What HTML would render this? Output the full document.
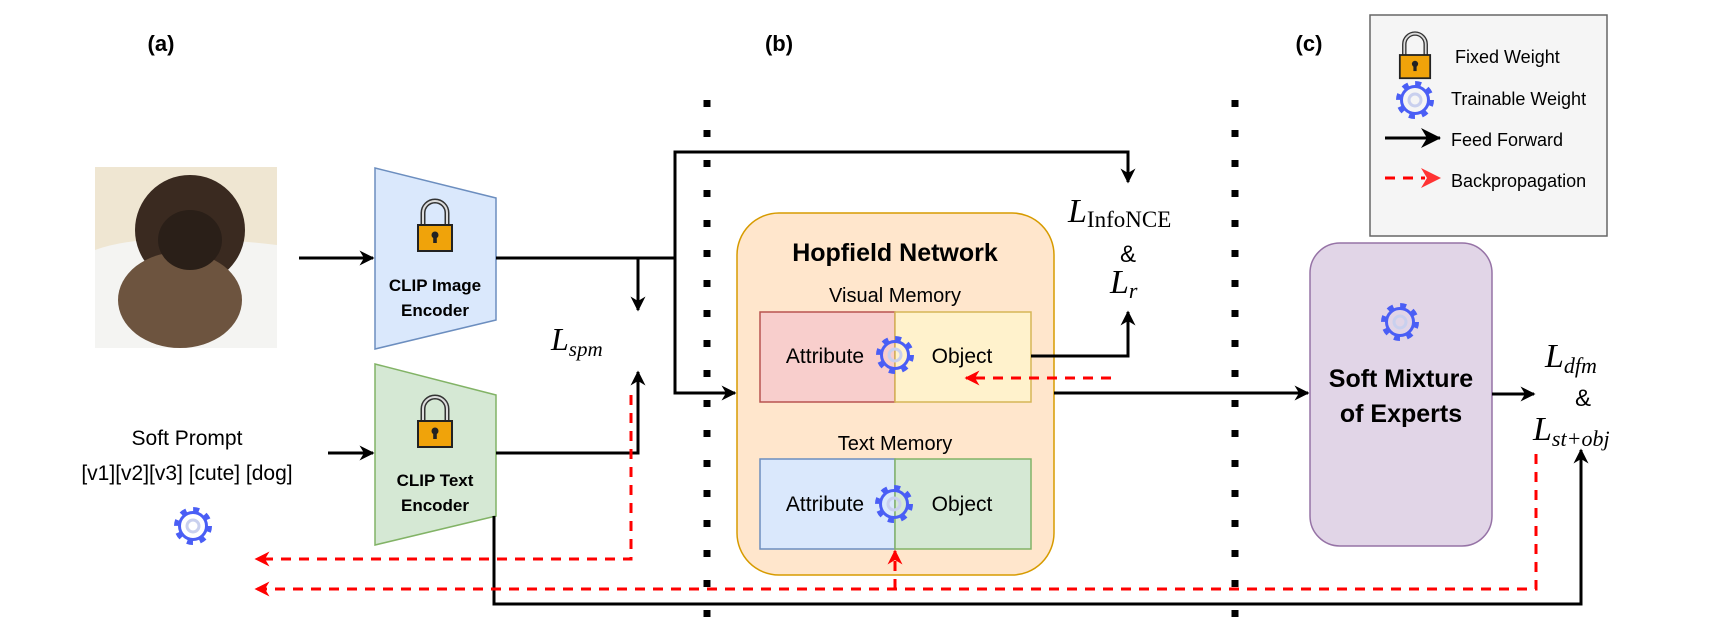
<!DOCTYPE html>
<html><head><meta charset="utf-8"><style>
html,body{margin:0;padding:0;background:#fff}
svg{display:block}
.s{font-family:"Liberation Sans",sans-serif}
.m{font-family:"Liberation Serif",serif;font-style:italic}
.r{font-family:"Liberation Serif",serif}
</style></head><body>
<svg width="1713" height="644" viewBox="0 0 1713 644" xmlns="http://www.w3.org/2000/svg">
<defs>
<symbol id="gear" viewBox="-20 -20 40 40" overflow="visible">
<circle r="16.5" fill="none" stroke="#4a5ef5" stroke-width="5" stroke-dasharray="6 6.96"/>
<circle r="13.5" fill="none" stroke="#4a5ef5" stroke-width="3"/>
<circle r="6" fill="none" stroke="#c9d0ee" stroke-width="3"/>
</symbol>
<symbol id="lock" viewBox="-20 -28 40 56" overflow="visible">
<path d="M-12 0 V-12 A12 12 0 0 1 12 -12 V0" fill="none" stroke="#333" stroke-width="5"/>
<path d="M-12 0 V-12 A12 12 0 0 1 12 -12 V0" fill="none" stroke="#ddd" stroke-width="2"/>
<rect x="-17" y="0" width="34" height="26" fill="#f0a30a" stroke="#222" stroke-width="2"/>
<circle cx="0" cy="10" r="3.5" fill="#222"/><rect x="-1.8" y="10" width="3.6" height="8" fill="#222"/>
</symbol>
<g id="dots">
<rect x="-3.5" y="100" width="7" height="7"/><rect x="-3.5" y="130" width="7" height="7"/><rect x="-3.5" y="160" width="7" height="7"/><rect x="-3.5" y="190" width="7" height="7"/><rect x="-3.5" y="220" width="7" height="7"/><rect x="-3.5" y="250" width="7" height="7"/><rect x="-3.5" y="280" width="7" height="7"/><rect x="-3.5" y="310" width="7" height="7"/><rect x="-3.5" y="340" width="7" height="7"/><rect x="-3.5" y="370" width="7" height="7"/><rect x="-3.5" y="400" width="7" height="7"/><rect x="-3.5" y="430" width="7" height="7"/><rect x="-3.5" y="460" width="7" height="7"/><rect x="-3.5" y="490" width="7" height="7"/><rect x="-3.5" y="520" width="7" height="7"/><rect x="-3.5" y="550" width="7" height="7"/><rect x="-3.5" y="580" width="7" height="7"/><rect x="-3.5" y="610" width="7" height="7"/>
</g>
<marker id="ab" viewBox="0 0 10 10" refX="9" refY="5" markerWidth="15" markerHeight="15" orient="auto" markerUnits="userSpaceOnUse"><path d="M0 0 L10 5 L0 10 L3 5 Z" fill="#000"/></marker>
<marker id="ar" viewBox="0 0 10 10" refX="9" refY="5" markerWidth="15" markerHeight="15" orient="auto" markerUnits="userSpaceOnUse"><path d="M0 0 L10 5 L0 10 L3 5 Z" fill="#f00"/></marker>
<marker id="arl" viewBox="0 0 10 10" refX="9" refY="5" markerWidth="20" markerHeight="20" orient="auto" markerUnits="userSpaceOnUse"><path d="M0 0 L10 5 L0 10 L3 5 Z" fill="#f33"/></marker>
</defs>
<style>
.k{stroke:#000;stroke-width:3;fill:none}
.rd{stroke:#f00;stroke-width:3;fill:none;stroke-dasharray:10 8}
</style>

<text x="161" y="51" class="s" font-size="22" font-weight="bold" text-anchor="middle">(a)</text>
<text x="779" y="51" class="s" font-size="22" font-weight="bold" text-anchor="middle">(b)</text>
<text x="1309" y="51" class="s" font-size="22" font-weight="bold" text-anchor="middle">(c)</text>

<use href="#dots" x="707"/>
<use href="#dots" x="1235"/>

<rect x="95" y="167" width="182" height="181" fill="#efe6d2"/>
<path d="M95 250 Q150 230 277 245 V348 H95 Z" fill="#f4f4f2"/>
<ellipse cx="190" cy="230" rx="55" ry="55" fill="#3a2a20"/>
<ellipse cx="180" cy="300" rx="62" ry="48" fill="#6d543f"/>
<ellipse cx="190" cy="240" rx="32" ry="30" fill="#2a1f18"/>

<polygon points="375,168 496,198 496,320 375,349" fill="#dae8fc" stroke="#6c8ebf" stroke-width="1.5"/>
<use href="#lock" x="415" y="197" width="40" height="56"/>
<text x="435" y="291" class="s" font-size="17" font-weight="bold" text-anchor="middle">CLIP Image</text>
<text x="435" y="316" class="s" font-size="17" font-weight="bold" text-anchor="middle">Encoder</text>

<polygon points="375,364 496,395 496,516 375,545" fill="#d5e8d4" stroke="#82b366" stroke-width="1.5"/>
<use href="#lock" x="415" y="393" width="40" height="56"/>
<text x="435" y="486" class="s" font-size="17" font-weight="bold" text-anchor="middle">CLIP Text</text>
<text x="435" y="511" class="s" font-size="17" font-weight="bold" text-anchor="middle">Encoder</text>

<text x="187" y="445" class="s" font-size="21" text-anchor="middle">Soft Prompt</text>
<text x="187" y="480" class="s" font-size="21" text-anchor="middle">[v1][v2][v3] [cute] [dog]</text>
<use href="#gear" x="173" y="506" width="40" height="40"/>

<path class="k" d="M299 258 H373" marker-end="url(#ab)"/>
<path class="k" d="M328 453 H373" marker-end="url(#ab)"/>
<path class="k" d="M496 258 H675"/>
<path class="k" d="M638 258 V310" marker-end="url(#ab)"/>
<path class="k" d="M496 453 H638 V372" marker-end="url(#ab)"/>
<text x="551" y="350" class="m" font-size="32">L<tspan font-size="21" dy="6">spm</tspan></text>

<path class="k" d="M675 258 V152 H1128 V182" marker-end="url(#ab)"/>
<path class="k" d="M675 258 V393 H735" marker-end="url(#ab)"/>

<rect x="737" y="213" width="317" height="362" rx="42" fill="#ffe6cc" stroke="#d79b00" stroke-width="1.5"/>
<text x="895" y="261" class="s" font-size="25" font-weight="bold" text-anchor="middle">Hopfield Network</text>
<text x="895" y="302" class="s" font-size="20" text-anchor="middle">Visual Memory</text>
<rect x="760" y="312" width="135" height="90" fill="#f8cecc" stroke="#b85450" stroke-width="1.5"/>
<rect x="895" y="312" width="136" height="90" fill="#fff2cc" stroke="#d6b656" stroke-width="1.5"/>
<text x="825" y="363" class="s" font-size="21" text-anchor="middle">Attribute</text>
<text x="962" y="363" class="s" font-size="21" text-anchor="middle">Object</text>
<use href="#gear" x="875" y="335" width="40" height="40"/>
<text x="895" y="450" class="s" font-size="20" text-anchor="middle">Text Memory</text>
<rect x="760" y="459" width="135" height="90" fill="#dae8fc" stroke="#6c8ebf" stroke-width="1.5"/>
<rect x="895" y="459" width="136" height="90" fill="#d5e8d4" stroke="#82b366" stroke-width="1.5"/>
<text x="825" y="511" class="s" font-size="21" text-anchor="middle">Attribute</text>
<text x="962" y="511" class="s" font-size="21" text-anchor="middle">Object</text>
<use href="#gear" x="874" y="484" width="40" height="40"/>

<path class="k" d="M1031 356 H1128 V312" marker-end="url(#ab)"/>
<text x="1068" y="222" class="m" font-size="34">L<tspan class="r" font-style="normal" font-size="23" dy="5">InfoNCE</tspan></text>
<text x="1128" y="262" class="s" font-size="24" text-anchor="middle">&amp;</text>
<text x="1110" y="293" class="m" font-size="34">L<tspan font-size="22" dy="5">r</tspan></text>
<path class="rd" d="M1111 378 H966" marker-end="url(#ar)"/>

<path class="k" d="M1054 393 H1308" marker-end="url(#ab)"/>
<rect x="1310" y="243" width="182" height="303" rx="30" fill="#e1d5e7" stroke="#9673a6" stroke-width="1.5"/>
<use href="#gear" x="1380" y="302" width="40" height="40"/>
<text x="1401" y="387" class="s" font-size="25" font-weight="bold" text-anchor="middle">Soft Mixture</text>
<text x="1401" y="422" class="s" font-size="25" font-weight="bold" text-anchor="middle">of Experts</text>
<path class="k" d="M1492 394 H1534" marker-end="url(#ab)"/>
<text x="1545" y="367" class="m" font-size="34">L<tspan font-size="22" dy="6">dfm</tspan></text>
<text x="1583" y="406" class="s" font-size="24" text-anchor="middle">&amp;</text>
<text x="1533" y="440" class="m" font-size="34">L<tspan font-size="22" dy="6">st+obj</tspan></text>

<path class="k" d="M494 516 V604 H1581 V450" marker-end="url(#ab)"/>

<path class="rd" d="M631 395 V559 H256" marker-end="url(#ar)"/>
<path class="rd" d="M1536 454 V589 H256" marker-end="url(#ar)"/>
<path class="rd" d="M895 589 V551" marker-end="url(#ar)"/>

<rect x="1370" y="15" width="237" height="221" fill="#f5f5f5" stroke="#666" stroke-width="1.5"/>
<use href="#lock" x="1397" y="30" width="36" height="50"/>
<text x="1455" y="63" class="s" font-size="18">Fixed Weight</text>
<use href="#gear" x="1395" y="80" width="40" height="40"/>
<text x="1451" y="105" class="s" font-size="18">Trainable Weight</text>
<path class="k" d="M1385 138 H1440" marker-end="url(#arb)"/>
<path d="M1421 128 L1441 138 L1421 148 L1427 138 Z" fill="#000"/>
<text x="1451" y="146" class="s" font-size="18">Feed Forward</text>
<path class="rd" d="M1385 178 H1425" stroke="#f33" stroke-dasharray="8 8"/>
<path d="M1421 168 L1441 178 L1421 188 L1427 178 Z" fill="#f33"/>
<text x="1451" y="187" class="s" font-size="18">Backpropagation</text>
</svg>
</body></html>
